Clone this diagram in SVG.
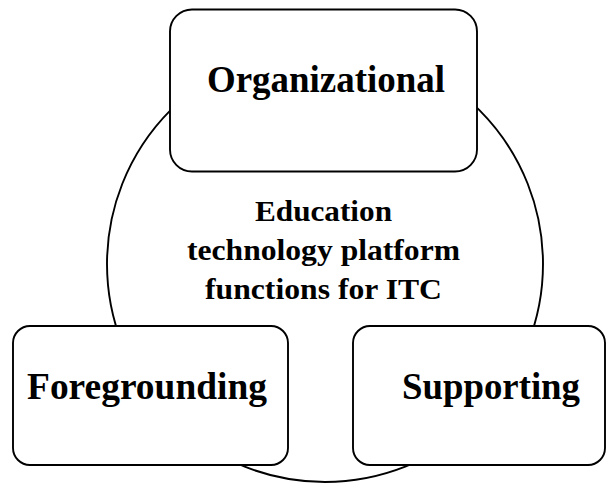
<svg xmlns="http://www.w3.org/2000/svg" width="606" height="484" viewBox="0 0 606 484">
  <style>
    .shape { fill: #ffffff; stroke: #000000; stroke-width: 1.9; }
    .big { font-family: "Liberation Serif", "Times New Roman", serif; font-weight: bold; font-size: 37px; fill: #000000; text-anchor: middle; }
    .mid { font-family: "Liberation Serif", "Times New Roman", serif; font-weight: bold; font-size: 29px; fill: #000000; text-anchor: middle; }
  </style>
  <rect width="606" height="484" fill="#ffffff"/>
  <g id="center">
    <circle class="shape" cx="325" cy="264" r="218"/>
    <text class="mid" x="323.5" y="221" textLength="137" lengthAdjust="spacingAndGlyphs">Education</text>
    <text class="mid" x="323.5" y="260" textLength="273" lengthAdjust="spacingAndGlyphs">technology platform</text>
    <text class="mid" x="323.5" y="299" textLength="237" lengthAdjust="spacingAndGlyphs">functions for ITC</text>
  </g>
  <g id="organizational">
    <rect class="shape" x="170" y="9.5" width="307" height="162" rx="22" ry="22"/>
    <text class="big" x="326" y="92" textLength="238" lengthAdjust="spacingAndGlyphs">Organizational</text>
  </g>
  <g id="foregrounding">
    <rect class="shape" x="13" y="326" width="275" height="139" rx="17" ry="17"/>
    <text class="big" x="147" y="399" textLength="240" lengthAdjust="spacingAndGlyphs">Foregrounding</text>
  </g>
  <g id="supporting">
    <rect class="shape" x="353" y="326" width="252" height="139" rx="17" ry="17"/>
    <text class="big" x="491" y="399" textLength="178" lengthAdjust="spacingAndGlyphs">Supporting</text>
  </g>
</svg>
